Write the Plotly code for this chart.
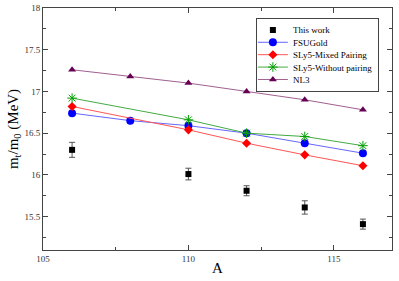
import plotly.graph_objects as go

A_exp = [106, 110, 112, 114, 116]
this_work = [16.30, 16.01, 15.81, 15.61, 15.41]
this_err = [0.09, 0.07, 0.06, 0.08, 0.06]

A_fsu = [106, 108, 110, 112, 114, 116]
fsugold = [16.74, 16.65, 16.59, 16.50, 16.38, 16.26]

A_sly = [106, 110, 112, 114, 116]
sly5_mixed = [16.82, 16.54, 16.38, 16.24, 16.11]
sly5_without = [16.92, 16.66, 16.50, 16.46, 16.35]

A_nl3 = [106, 108, 110, 112, 114, 116]
nl3 = [17.26, 17.18, 17.10, 17.00, 16.90, 16.78]

font = "Liberation Serif, Times New Roman, serif"
fig = go.Figure()
fig.add_trace(go.Scatter(x=A_exp, y=this_work, mode="markers", name="This work",
    marker=dict(symbol="square", size=6, color="black"),
    error_y=dict(type="data", array=this_err, color="#555555", thickness=1, width=3)))
fig.add_trace(go.Scatter(x=A_fsu, y=fsugold, mode="lines+markers", name="FSUGold",
    marker=dict(symbol="circle", size=8, color="#0000ff"),
    line=dict(color="#6666ff", width=1)))
fig.add_trace(go.Scatter(x=A_sly, y=sly5_mixed, mode="lines+markers", name="SLy5-Mixed Pairing",
    marker=dict(symbol="diamond", size=7, color="#ff0000"),
    line=dict(color="#ff5555", width=1)))
fig.add_trace(go.Scatter(x=A_sly, y=sly5_without, mode="lines+markers", name="SLy5-Without pairing",
    marker=dict(symbol="asterisk-open", size=8, color="#00a000", line=dict(color="#00a000", width=1)),
    line=dict(color="#44aa44", width=1)))
fig.add_trace(go.Scatter(x=A_nl3, y=nl3, mode="lines+markers", name="NL3",
    marker=dict(symbol="triangle-up", size=7, color="#660055"),
    line=dict(color="#a06090", width=1)))

axis_common = dict(showline=True, linecolor="#444444", linewidth=1, mirror="ticks",
    ticks="inside", ticklen=5, tickcolor="#444444", showgrid=False, zeroline=False,
    automargin=False,
    tickfont=dict(family=font, size=9, color="#333333"))
fig.update_xaxes(range=[105, 117], tick0=105, dtick=5,
    minor=dict(ticks="inside", ticklen=3, dtick=2.5, tickcolor="#444444"),
    **axis_common)
fig.update_yaxes(range=[15.1, 18], tick0=15.5, dtick=0.5,
    minor=dict(ticks="inside", ticklen=3, dtick=0.25, tickcolor="#444444"),
    title=dict(text="m<sub>t</sub>/m<sub>0</sub> (MeV)", font=dict(family=font, size=15, color="black"), standoff=2),
    **axis_common)
fig.add_annotation(text="A", xref="paper", yref="paper", x=0.5, y=-0.035,
    xanchor="center", yanchor="top", showarrow=False,
    font=dict(family=font, size=15, color="black"))
fig.update_layout(width=399, height=281, margin=dict(l=43, r=7, t=8, b=31),
    paper_bgcolor="white", plot_bgcolor="white",
    legend=dict(x=0.61, y=0.96, xanchor="left", yanchor="top",
        bgcolor="white", bordercolor="#444444", borderwidth=1,
        font=dict(family=font, size=9, color="black"),
        tracegroupgap=0, itemwidth=30, indentation=-4))

post_js = """
document.body.style.margin='0';
(function(){
  var gd = document.getElementById('{plot_id}');
  var leg = gd.querySelector('g.legend');
  if(!leg) return;
  var tr = leg.querySelectorAll('g.traces');
  if(tr.length < 2) return;
  var re = /translate\\(\\s*([-\\d.e]+)[\\s,]*([-\\d.e]+)?\\s*\\)/;
  var m0 = re.exec(tr[0].getAttribute('transform'));
  var m1 = re.exec(tr[1].getAttribute('transform'));
  if(!m0 || !m1) return;
  var x0 = parseFloat(m0[1]), y0 = parseFloat(m0[2]||0);
  var step0 = parseFloat(m1[2]||0) - y0;
  var step = 12.4;
  var d = step0 - step;
  if(d <= 0) return;
  var ny0 = y0 - d/2;
  for(var i=0;i<tr.length;i++){
    tr[i].setAttribute('transform','translate('+x0+','+(ny0 + i*step)+')');
  }
  var bg = leg.querySelector('rect.bg');
  if(bg){
    var h = parseFloat(bg.getAttribute('height'));
    bg.setAttribute('height', h - tr.length*d);
  }
})();
"""
fig.write_html("out.html", config={"displayModeBar": False}, post_script=post_js)
